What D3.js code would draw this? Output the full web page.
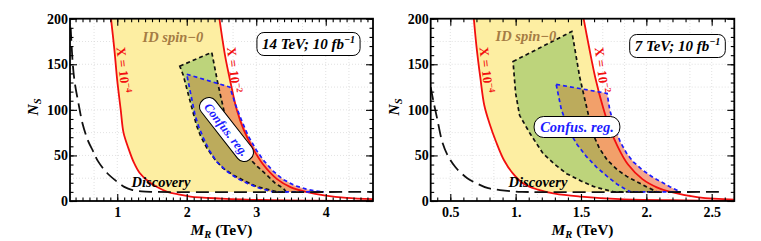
<!DOCTYPE html>
<html lang="en">
<head>
<meta charset="UTF-8">
<title>N_S vs M_R</title>
<style>
  body { margin: 0; background: #fff; }
  svg text { font-family: "Liberation Serif", "Times New Roman", serif; font-weight: bold; }
</style>
</head>
<body>
<svg id="chart" width="761" height="241"></svg>
<script src="https://cdn.jsdelivr.net/npm/d3@7"></script>
<script>
// ---- data: [M_R (TeV), N_S] ----
const nsTicks = [0, 50, 100, 150, 200];

// 14 TeV panel
const mTicks14 = [1, 2, 3, 4];
const mLabels14 = ["1", "2", "3", "4"];
const xLow14 = [[0.91, 200], [0.96, 165], [1.0, 132], [1.05, 100], [1.09, 75], [1.16, 58], [1.24, 42], [1.32, 31],
  [1.44, 22], [1.58, 15], [1.72, 10], [1.9, 7], [2.05, 4.8], [2.5, 2.7], [3.1, 1.1], [3.8, 0.4], [4.7, 0.1]];
const xHigh14 = [[2.47, 200], [2.55, 160], [2.63, 130], [2.72, 100], [2.82, 78], [2.95, 58], [3.1, 40], [3.3, 24],
  [3.5, 15], [3.72, 10], [4.0, 6], [4.3, 3.5], [4.7, 1.9]];
const disc14 = [[0.33, 190], [0.36, 150], [0.39, 129], [0.44, 108], [0.5, 85], [0.58, 66], [0.65, 55], [0.72, 44],
  [0.85, 31], [1.0, 21], [1.1, 15.5], [1.22, 12], [1.35, 10.5], [1.5, 10], [4.7, 10]];
const green14 = [[1.90, 148], [2.36, 163], [2.45, 128], [2.55, 94], [2.64, 69], [2.75, 58], [2.86, 50], [3.0, 39],
  [3.15, 28.5], [3.28, 19], [3.39, 14], [3.43, 10], [3.3, 10], [3.2, 12], [3.0, 16], [2.86, 21], [2.68, 28],
  [2.52, 36], [2.4, 46], [2.29, 58], [2.2, 71], [2.14, 83], [2.05, 109], [1.95, 138]];
const blue14 = [[2.0, 139], [2.62, 125], [2.70, 106], [2.77, 92], [2.88, 72], [3.0, 56], [3.1, 45], [3.24, 33],
  [3.38, 24], [3.55, 17], [3.72, 13], [3.85, 11], [3.97, 10], [3.24, 10], [3.05, 14], [2.88, 19], [2.72, 25],
  [2.57, 33], [2.43, 43], [2.33, 55], [2.24, 69], [2.17, 82], [2.12, 94], [2.05, 120]];

// 7 TeV panel
const mTicks7 = [0.5, 1, 1.5, 2, 2.5];
const mLabels7 = ["0.5", "1.", "1.5", "2.", "2.5"];
const xLow7 = [[0.68, 200], [0.70, 170], [0.73, 135], [0.76, 105], [0.80, 85], [0.85, 65], [0.91, 45], [0.98, 30],
  [1.06, 19], [1.17, 12.5], [1.3, 8], [1.5, 4.8], [1.8, 2], [2.2, 0.8], [2.7, 0.2]];
const xHigh7 = [[1.52, 200], [1.56, 170], [1.61, 135], [1.67, 102], [1.72, 80], [1.78, 60], [1.86, 40], [1.97, 24],
  [2.08, 15], [2.17, 10.5], [2.4, 4], [2.7, 1.5]];
const disc7 = [[0.35, 125], [0.37, 110], [0.40, 90], [0.44, 64], [0.48, 50], [0.54, 37], [0.63, 25], [0.7, 19.5],
  [0.79, 14], [0.88, 12], [0.98, 10.5], [1.05, 10], [2.6, 10]];
const green7 = [[0.98, 153], [1.43, 186], [1.49, 136], [1.53, 111], [1.59, 74], [1.64, 58], [1.70, 45], [1.78, 34],
  [1.85, 27], [2.0, 15.7], [2.08, 10], [1.75, 10], [1.6, 15.7], [1.5, 22], [1.39, 30], [1.3, 40], [1.21, 52],
  [1.11, 74], [1.03, 94], [1.0, 118]];
const blue7 = [[1.31, 128], [1.70, 118], [1.72, 100], [1.76, 80], [1.8, 65], [1.85, 52], [1.9, 43], [1.97, 34],
  [2.05, 26], [2.18, 15.7], [2.26, 10], [1.88, 10], [1.85, 12], [1.78, 18], [1.70, 27], [1.62, 37], [1.54, 49],
  [1.47, 62], [1.42, 74], [1.35, 100]];

const svg = d3.select("#chart");
const defs = svg.append("defs");

function drawPanel(p) {
  var x = d3.scaleLinear().domain(p.xDomain).range([p.left, p.right]);
  var y = d3.scaleLinear().domain([0, 200]).range([201, 18.7]);

  var smooth = d3.line().x(d => x(d[0])).y(d => y(d[1])).curve(d3.curveCatmullRom.alpha(0.5));
  var poly = d3.line().x(d => x(d[0])).y(d => y(d[1])).curve(d3.curveLinearClosed);

  var band = smooth(p.low) + "L" + smooth(p.high.slice().reverse()).slice(1) + "Z";

  defs.append("clipPath").attr("id", "plot" + p.id).append("rect")
    .attr("x", p.left).attr("y", y(200)).attr("width", p.right - p.left).attr("height", y(0) - y(200));
  defs.append("clipPath").attr("id", "above" + p.id).append("rect")
    .attr("x", p.left).attr("y", y(200)).attr("width", p.right - p.left).attr("height", y(10) - y(200));
  defs.append("clipPath").attr("id", "band" + p.id).append("path").attr("d", band);
  defs.append("clipPath").attr("id", "blue" + p.id).append("path").attr("d", poly(p.blue));

  var g = svg.append("g").attr("clip-path", "url(#plot" + p.id + ")");

  // faint dotted grid
  g.selectAll(".gx").data(p.gridX).enter().append("line")
    .attr("x1", d => x(d)).attr("x2", d => x(d)).attr("y1", y(0)).attr("y2", y(200))
    .attr("stroke", "#d4d4d4").attr("stroke-width", 0.7).attr("stroke-dasharray", "1,2");
  g.selectAll(".gy").data(d3.range(25, 200, 25)).enter().append("line")
    .attr("x1", p.left).attr("x2", p.right).attr("y1", d => y(d)).attr("y2", d => y(d))
    .attr("stroke", "#d4d4d4").attr("stroke-width", 0.7).attr("stroke-dasharray", "1,2");

  // regions
  g.append("path").attr("d", band).attr("fill", "#fdeea2").attr("clip-path", "url(#above" + p.id + ")");
  g.append("path").attr("d", poly(p.blue)).attr("fill", "#f5a68c");
  g.append("path").attr("d", poly(p.blue)).attr("fill", "#f2a06a").attr("clip-path", "url(#band" + p.id + ")");
  g.append("path").attr("d", poly(p.green)).attr("fill", "#bdd47b");
  g.append("path").attr("d", poly(p.green)).attr("fill", "#bcab5c").attr("clip-path", "url(#blue" + p.id + ")");

  // lines
  g.append("path").attr("d", smooth(p.low)).attr("fill", "none").attr("stroke", "#f20f0f").attr("stroke-width", 1.8);
  g.append("path").attr("d", smooth(p.high)).attr("fill", "none").attr("stroke", "#f20f0f").attr("stroke-width", 1.8);
  g.append("path").attr("d", poly(p.green)).attr("fill", "none").attr("stroke", "#111")
    .attr("stroke-width", 1.7).attr("stroke-dasharray", "4,3");
  g.append("path").attr("d", poly(p.blue)).attr("fill", "none").attr("stroke", "#1c1cff")
    .attr("stroke-width", 1.7).attr("stroke-dasharray", "4,3");
  g.append("path").attr("d", smooth(p.disc)).attr("fill", "none").attr("stroke", "#111")
    .attr("stroke-width", 1.8).attr("stroke-dasharray", "13,6");

  // frame + ticks (inward on all sides)
  var minorX = d3.range(Math.ceil(p.xDomain[0] * 10), Math.floor(p.xDomain[1] * 10) + 1).map(d => d / 10);
  var minorY = d3.range(0, 201, 10);
  function tickAxis(axis, tr, vals, size) {
    svg.append("g").attr("transform", tr)
      .call(axis.tickValues(vals).tickSize(-size).tickFormat(""))
      .call(s => s.select(".domain").remove())
      .selectAll("line").attr("stroke", "#000").attr("stroke-width", 1.1);
  }
  [[minorX, 3.5], [p.ticks, 7]].forEach(function (t) {
    tickAxis(d3.axisBottom(x), "translate(0," + y(0) + ")", t[0], t[1]);
    tickAxis(d3.axisTop(x), "translate(0," + y(200) + ")", t[0], t[1]);
  });
  [[minorY, 3.5], [nsTicks, 7]].forEach(function (t) {
    tickAxis(d3.axisLeft(y), "translate(" + p.left + ",0)", t[0], t[1]);
    tickAxis(d3.axisRight(y), "translate(" + p.right + ",0)", t[0], t[1]);
  });
  svg.append("rect").attr("x", p.left).attr("y", y(200)).attr("width", p.right - p.left)
    .attr("height", y(0) - y(200)).attr("fill", "none").attr("stroke", "#000").attr("stroke-width", 1.8);

  // tick labels
  svg.append("g").attr("transform", "translate(0," + y(0) + ")")
    .call(d3.axisBottom(x).tickValues(p.ticks).tickSize(0).tickPadding(6).tickFormat((d, i) => p.labels[i]))
    .call(s => s.select(".domain").remove())
    .attr("font-family", null).attr("font-size", 14);
  svg.append("g").attr("transform", "translate(" + p.left + ",0)")
    .call(d3.axisLeft(y).tickValues(nsTicks).tickSize(0).tickPadding(2))
    .call(s => s.select(".domain").remove())
    .attr("font-family", null).attr("font-size", 14);

  // axis titles
  var xt = svg.append("text").attr("x", (p.left + p.right) / 2).attr("y", 235)
    .attr("text-anchor", "middle").attr("font-size", 15.5);
  xt.append("tspan").attr("font-style", "italic").text("M");
  xt.append("tspan").attr("font-style", "italic").attr("font-size", 10.5).attr("dy", 3).text("R");
  xt.append("tspan").attr("dy", -3).text(" (TeV)");
  var yt = svg.append("text").attr("transform", "translate(" + (p.left - 32) + ",107) rotate(-90)")
    .attr("text-anchor", "middle").attr("font-size", 15.5).attr("font-style", "italic");
  yt.append("tspan").text("N");
  yt.append("tspan").attr("font-size", 10.5).attr("dy", 3).text("S");

  // annotations
  svg.append("text").attr("x", p.idPos[0]).attr("y", p.idPos[1]).attr("text-anchor", "middle")
    .attr("font-size", 14.5).attr("font-style", "italic").attr("fill", "#a57c44").text("ID spin\u22120");

  p.xLabels.forEach(function (l) {
    var t = svg.append("text").attr("transform", "translate(" + l.pos[0] + "," + l.pos[1] + ") rotate(" + l.angle + ")")
      .attr("text-anchor", "middle").attr("dy", 4).attr("font-size", 13).attr("fill", "#f20f0f");
    t.append("tspan").text("X = 10");
    t.append("tspan").attr("font-size", 9).attr("dy", -5).text(l.exp);
  });

  // energy / lumi box
  var eb = svg.append("g");
  var et = eb.append("text").attr("x", p.boxC[0]).attr("y", p.boxC[1] + 5).attr("text-anchor", "middle")
    .attr("font-size", 15).attr("font-style", "italic");
  et.append("tspan").text(p.boxText);
  et.append("tspan").attr("font-size", 10).attr("dy", -6).text("\u22121");
  var bb = et.node().getBBox();
  eb.insert("rect", "text").attr("x", bb.x - 5).attr("y", p.boxC[1] - 11.5).attr("width", bb.width + 10)
    .attr("height", 23).attr("rx", 7).attr("fill", "#fff").attr("stroke", "#000").attr("stroke-width", 1);

  // confusion region label
  var cg = svg.append("g").attr("transform", "translate(" + p.confC[0] + "," + p.confC[1] + ") rotate(" + p.confAngle + ")");
  var ct = cg.append("text").attr("text-anchor", "middle").attr("dy", 4.5).attr("font-size", p.confSize)
    .attr("font-style", "italic").attr("fill", "#1c1cff").text("Confus. reg.");
  var cb = ct.node().getBBox();
  cg.insert("rect", "text").attr("x", cb.x - 6).attr("y", -p.confH / 2).attr("width", cb.width + 12)
    .attr("height", p.confH).attr("rx", p.confH / 2.2).attr("fill", "#fff").attr("stroke", "#000").attr("stroke-width", 1);

  svg.append("text").attr("x", p.discPos[0]).attr("y", p.discPos[1]).attr("text-anchor", "middle")
    .attr("font-size", 14.5).attr("font-style", "italic").text("Discovery");
}

drawPanel({
  id: "a", left: 70, right: 373, xDomain: [0.32, 4.68],
  ticks: mTicks14, labels: mLabels14, gridX: d3.range(1, 14).map(d => d / 3),
  low: xLow14, high: xHigh14, disc: disc14, green: green14, blue: blue14,
  idPos: [173, 42], discPos: [161, 187],
  xLabels: [{ pos: [123, 70], angle: 84, exp: "\u22124" }, { pos: [233.5, 70], angle: 84, exp: "\u22122" }],
  boxC: [308.5, 44], boxText: "14 TeV; 10 fb",
  confC: [226.5, 129.5], confAngle: 52, confSize: 12.5, confH: 18
});
drawPanel({
  id: "b", left: 430.7, right: 734.3, xDomain: [0.35, 2.673],
  ticks: mTicks7, labels: mLabels7, gridX: d3.range(3, 17).map(d => d / 6),
  low: xLow7, high: xHigh7, disc: disc7, green: green7, blue: blue7,
  idPos: [526, 41], discPos: [538, 187],
  xLabels: [{ pos: [486, 70], angle: 84, exp: "\u22124" }, { pos: [601.5, 70], angle: 83, exp: "\u22122" }],
  boxC: [677.5, 46], boxText: "7 TeV; 10 fb",
  confC: [577, 127], confAngle: 0, confSize: 14.5, confH: 21
});
</script>
</body>
</html>
